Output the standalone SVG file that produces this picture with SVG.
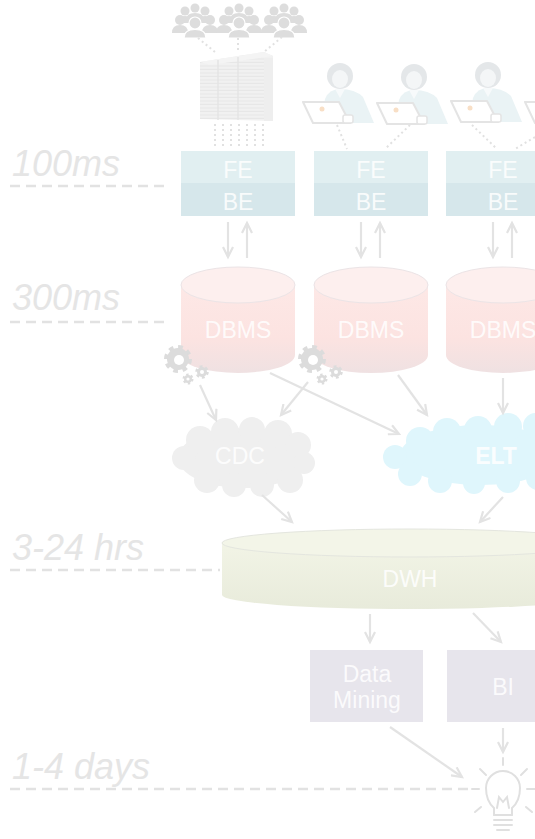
<svg xmlns="http://www.w3.org/2000/svg" width="535" height="839" viewBox="0 0 535 839">
  <style>
    .lat { font-family: "Liberation Sans", Arial, sans-serif; font-style: italic; font-size: 36px; fill: #e5e5e5; }
    .dash { stroke: #e2e2e2; stroke-width: 2.5; stroke-dasharray: 10 6; fill: none; }
    .lbl { font-family: "Liberation Sans", Arial, sans-serif; font-size: 23px; fill: #ffffff; fill-opacity: 0.85; text-anchor: middle; }
    .conn { stroke: #e3e3e3; stroke-width: 2.2; fill: none; marker-end: url(#ah); }
    .dots { stroke: #e1e1e1; stroke-width: 2; stroke-dasharray: 2 3; fill: none; }
    .fe { fill: #e1eff1; }
    .be { fill: #d6e7eb; }
    .gear { fill: #dcdcdc; }
    .teeth { fill: none; stroke: #dcdcdc; }
    .crowd { fill: #dddddd; }
    .box { fill: #e7e5ec; }
  </style>
  <defs>
    <marker id="ah" viewBox="0 0 14 12" markerWidth="14" markerHeight="12" refX="11" refY="6" orient="auto" markerUnits="userSpaceOnUse">
      <path d="M1,1 L11,6 L1,11" fill="none" stroke="#e3e3e3" stroke-width="2.2"/>
    </marker>
    <linearGradient id="dbBody" x1="0" y1="0" x2="0" y2="1">
      <stop offset="0" stop-color="#fde8e6"/>
      <stop offset="0.6" stop-color="#fce3e1"/>
      <stop offset="1" stop-color="#efe1e2"/>
    </linearGradient>
    <linearGradient id="dwhBody" x1="0" y1="0" x2="0" y2="1">
      <stop offset="0" stop-color="#f2f4e6"/>
      <stop offset="1" stop-color="#e8ebdb"/>
    </linearGradient>
    <pattern id="slots" width="6" height="3.5" patternUnits="userSpaceOnUse">
      <rect width="6" height="3.5" fill="#f1f1f1"/>
      <rect y="2.5" width="6" height="1" fill="#e6e6e6"/>
    </pattern>
    <g id="crowd" class="crowd">
      <circle cx="-10" cy="-10" r="4.5"/>
      <circle cx="0" cy="-13" r="4.5"/>
      <circle cx="10" cy="-10" r="4.5"/>
      <path d="M-19,2 Q-19,-5 -10,-5 Q-1,-5 -1,2 Z"/>
      <path d="M1,2 Q1,-5 10,-5 Q19,-5 19,2 Z"/>
      <path d="M-9,-1 Q-9,-8 0,-8 Q9,-8 9,-1 Z"/>
      <circle cx="-15" cy="-1" r="5"/>
      <circle cx="15" cy="-1" r="5"/>
      <path d="M-23,12 Q-23,4 -15,4 Q-7,4 -7,12 Z"/>
      <path d="M7,12 Q7,4 15,4 Q23,4 23,12 Z"/>
      <circle cx="0" cy="2" r="6" stroke="#ffffff" stroke-width="1.2"/>
      <path d="M-11,17 Q-11,8.5 0,8.5 Q11,8.5 11,17 Z" stroke="#ffffff" stroke-width="1.2"/>
    </g>
    <g id="woman">
      <path d="M-19,47 L-15,23 Q-11,13 0,13 Q15,13 23,21 L34,47 Z" fill="#eaf3f5"/>
      <path d="M-5,13 L0,22 L5,13 Z" fill="#f7fafb"/>
      <circle cx="0" cy="0" r="13" fill="#e4e7e9"/>
      <ellipse cx="0" cy="3" rx="8" ry="9" fill="#f4f6f7"/>
      <path d="M-37,26 L-1,26 L10,47 L-27,47 Z" fill="#ffffff" stroke="#e4e4e4" stroke-width="2" stroke-linejoin="round"/>
      <rect x="3" y="39" width="10" height="8" rx="2" fill="#ffffff" stroke="#e4e4e4" stroke-width="1.5"/>
      <circle cx="-18" cy="33" r="2.5" fill="#f8dfc6"/>
    </g>
    <g id="gearset">
      <circle class="teeth" cx="0" cy="0" r="11" stroke-width="6" stroke-dasharray="4.3 4.3"/>
      <circle class="gear" cx="0" cy="0" r="11"/>
      <circle cx="1" cy="1" r="5" fill="#ffffff"/>
      <circle class="teeth" cx="24" cy="13" r="5" stroke-width="3.5" stroke-dasharray="2.6 2.6"/>
      <circle class="gear" cx="24" cy="13" r="5"/>
      <circle cx="24" cy="13" r="2" fill="#ffffff"/>
      <circle class="teeth" cx="10" cy="20" r="4" stroke-width="3" stroke-dasharray="2.1 2.1"/>
      <circle class="gear" cx="10" cy="20" r="4"/>
      <circle cx="10" cy="20" r="1.6" fill="#ffffff"/>
    </g>
  </defs>

  <!-- latency scale -->
  <g id="latency">
    <text class="lat" x="12" y="176">100ms</text>
    <line class="dash" x1="10" y1="186" x2="170" y2="186"/>
    <text class="lat" x="12" y="310">300ms</text>
    <line class="dash" x1="10" y1="322" x2="170" y2="322"/>
    <text class="lat" x="12" y="560">3-24 hrs</text>
    <line class="dash" x1="10" y1="570" x2="220" y2="570"/>
    <text class="lat" x="12" y="779">1-4 days</text>
    <line class="dash" x1="10" y1="789" x2="468" y2="789"/>
  </g>

  <!-- user crowds and server -->
  <g id="crowds">
    <use href="#crowd" x="195" y="21"/>
    <use href="#crowd" x="239" y="21"/>
    <use href="#crowd" x="284" y="21"/>
  </g>
  <g id="server">
    <polygon points="200,62 264,52 273,56 273,121 200,119" fill="url(#slots)"/>
    <polygon points="200,62 264,52 273,56 210,65" fill="#f4f4f4"/>
    <line x1="218" y1="60" x2="218" y2="120" stroke="#e4e4e4" stroke-width="1.5"/>
    <line x1="238" y1="57" x2="238" y2="120" stroke="#e4e4e4" stroke-width="1.5"/>
    <rect x="264" y="58" width="9" height="63" fill="#eeeeee"/>
  </g>

  <!-- users with laptops -->
  <g id="users">
    <use href="#woman" x="340" y="76"/>
    <use href="#woman" x="414" y="77"/>
    <use href="#woman" x="488" y="75"/>
    <use href="#woman" x="562" y="76"/>
  </g>

  <!-- access links -->
  <g id="access">
    <line class="dots" x1="198" y1="38" x2="215" y2="52"/>
    <line class="dots" x1="238" y1="38" x2="238" y2="52"/>
    <line class="dots" x1="282" y1="37" x2="264" y2="52"/>
    <line class="dots" x1="215" y1="124" x2="215" y2="149"/>
    <line class="dots" x1="223" y1="124" x2="223" y2="149"/>
    <line class="dots" x1="231" y1="124" x2="231" y2="149"/>
    <line class="dots" x1="239" y1="124" x2="239" y2="149"/>
    <line class="dots" x1="247" y1="124" x2="247" y2="149"/>
    <line class="dots" x1="255" y1="124" x2="255" y2="149"/>
    <line class="dots" x1="263" y1="124" x2="263" y2="149"/>
    <line class="dots" x1="337" y1="125" x2="347" y2="149"/>
    <line class="dots" x1="410" y1="125" x2="385" y2="149"/>
    <line class="dots" x1="472" y1="125" x2="497" y2="149"/>
    <line class="dots" x1="535" y1="137" x2="515" y2="149"/>
  </g>

  <!-- application tiers -->
  <g id="app1">
    <rect class="fe" x="181" y="151" width="114" height="32"/>
    <rect class="be" x="181" y="183" width="114" height="33"/>
    <text class="lbl" x="238" y="178">FE</text>
    <text class="lbl" x="238" y="210">BE</text>
  </g>
  <g id="app2">
    <rect class="fe" x="314" y="151" width="114" height="32"/>
    <rect class="be" x="314" y="183" width="114" height="33"/>
    <text class="lbl" x="371" y="178">FE</text>
    <text class="lbl" x="371" y="210">BE</text>
  </g>
  <g id="app3">
    <rect class="fe" x="446" y="151" width="114" height="32"/>
    <rect class="be" x="446" y="183" width="114" height="33"/>
    <text class="lbl" x="503" y="178">FE</text>
    <text class="lbl" x="503" y="210">BE</text>
  </g>

  <!-- operational databases -->
  <g id="dbms1">
    <path d="M181,285 L181,355 A57,18 0 0 0 295,355 L295,285 Z" fill="url(#dbBody)"/>
    <ellipse cx="238" cy="285" rx="57" ry="18" fill="#fdefee" stroke="#ebe4e6" stroke-width="1"/>
    <text class="lbl" x="238" y="338" font-size="24">DBMS</text>
  </g>
  <g id="dbms2">
    <path d="M314,285 L314,355 A57,18 0 0 0 428,355 L428,285 Z" fill="url(#dbBody)"/>
    <ellipse cx="371" cy="285" rx="57" ry="18" fill="#fdefee" stroke="#ebe4e6" stroke-width="1"/>
    <text class="lbl" x="371" y="338" font-size="24">DBMS</text>
  </g>
  <g id="dbms3">
    <path d="M446,285 L446,355 A57,18 0 0 0 560,355 L560,285 Z" fill="url(#dbBody)"/>
    <ellipse cx="503" cy="285" rx="57" ry="18" fill="#fdefee" stroke="#ebe4e6" stroke-width="1"/>
    <text class="lbl" x="503" y="338" font-size="24">DBMS</text>
  </g>

  <!-- capture processes -->
  <g id="gears1"><use href="#gearset" x="178" y="359"/></g>
  <g id="gears2"><use href="#gearset" x="312" y="359"/></g>

  <!-- change data capture -->
  <g id="cdc" fill="#efefef">
    <ellipse cx="243" cy="458" rx="65" ry="30"/>
    <circle cx="200" cy="440" r="14"/>
    <circle cx="225" cy="432" r="14"/>
    <circle cx="252" cy="430" r="13"/>
    <circle cx="278" cy="434" r="14"/>
    <circle cx="298" cy="445" r="13"/>
    <circle cx="304" cy="463" r="11"/>
    <circle cx="290" cy="480" r="13"/>
    <circle cx="262" cy="485" r="12"/>
    <circle cx="234" cy="485" r="12"/>
    <circle cx="207" cy="480" r="13"/>
    <circle cx="184" cy="458" r="12"/>
    <text class="lbl" x="240" y="464" fill="#fafafa">CDC</text>
  </g>

  <!-- extract load transform -->
  <g id="elt" fill="#dff6fc">
    <ellipse cx="480" cy="455" rx="80" ry="30"/>
    <circle cx="420" cy="441" r="14"/>
    <circle cx="447" cy="432" r="14"/>
    <circle cx="478" cy="430" r="14"/>
    <circle cx="508" cy="427" r="14"/>
    <circle cx="536" cy="426" r="13"/>
    <circle cx="395" cy="457" r="12"/>
    <circle cx="410" cy="474" r="12"/>
    <circle cx="440" cy="481" r="12"/>
    <circle cx="474" cy="483" r="11"/>
    <circle cx="508" cy="481" r="12"/>
    <circle cx="538" cy="478" r="12"/>
    <text class="lbl" x="496" y="464" font-size="22" font-weight="bold">ELT</text>
  </g>

  <!-- data warehouse -->
  <g id="dwh">
    <path d="M222,543 L222,595 A188,14 0 0 0 598,595 L598,543 Z" fill="url(#dwhBody)"/>
    <ellipse cx="410" cy="543" rx="188" ry="14" fill="#f3f5e8" stroke="#e4e6df" stroke-width="1"/>
    <text class="lbl" x="410" y="587" font-size="24">DWH</text>
  </g>

  <!-- analytics -->
  <g id="mining">
    <rect class="box" x="310" y="650" width="113" height="72"/>
    <text class="lbl" x="367" y="682">Data</text>
    <text class="lbl" x="367" y="708">Mining</text>
  </g>
  <g id="bi">
    <rect class="box" x="447" y="650" width="113" height="72"/>
    <text class="lbl" x="503" y="695">BI</text>
  </g>

  <!-- insight -->
  <g id="insight" fill="none" stroke="#e0e0e0" stroke-width="2" stroke-linecap="round">
    <path d="M494,815 L494,808 Q486,801 486,788 A17,17 0 1 1 520,788 Q520,801 512,808 L512,815"/>
    <path d="M497,808 L499,797 L503,802 L507,797 L509,808"/>
    <line x1="494" y1="815" x2="512" y2="815"/>
    <line x1="494" y1="820" x2="512" y2="820"/>
    <line x1="494" y1="825" x2="512" y2="825"/>
    <line x1="497" y1="830" x2="509" y2="830"/>
    <line x1="503" y1="758" x2="503" y2="765"/>
    <line x1="480" y1="769" x2="486" y2="775"/>
    <line x1="527" y1="769" x2="521" y2="775"/>
    <line x1="472" y1="789" x2="479" y2="789"/>
    <line x1="527" y1="789" x2="535" y2="789"/>
    <line x1="475" y1="812" x2="481" y2="807"/>
    <line x1="532" y1="812" x2="526" y2="807"/>
  </g>

  <!-- connectors -->
  <g id="connectors">
    <line class="conn" x1="228" y1="222" x2="228" y2="257"/>
    <line class="conn" x1="247" y1="258" x2="247" y2="223"/>
    <line class="conn" x1="361" y1="222" x2="361" y2="257"/>
    <line class="conn" x1="380" y1="258" x2="380" y2="223"/>
    <line class="conn" x1="493" y1="222" x2="493" y2="257"/>
    <line class="conn" x1="512" y1="258" x2="512" y2="223"/>
    <line class="conn" x1="200" y1="385" x2="216" y2="420"/>
    <line class="conn" x1="308" y1="382" x2="281" y2="415"/>
    <line class="conn" x1="270" y1="373" x2="399" y2="434"/>
    <line class="conn" x1="398" y1="375" x2="427" y2="415"/>
    <line class="conn" x1="503" y1="378" x2="503" y2="413"/>
    <line class="conn" x1="262" y1="495" x2="292" y2="522"/>
    <line class="conn" x1="503" y1="497" x2="480" y2="522"/>
    <line class="conn" x1="370" y1="614" x2="370" y2="642"/>
    <line class="conn" x1="473" y1="613" x2="501" y2="642"/>
    <line class="conn" x1="390" y1="727" x2="462" y2="777"/>
    <line class="conn" x1="503" y1="728" x2="503" y2="752"/>
  </g>
</svg>
